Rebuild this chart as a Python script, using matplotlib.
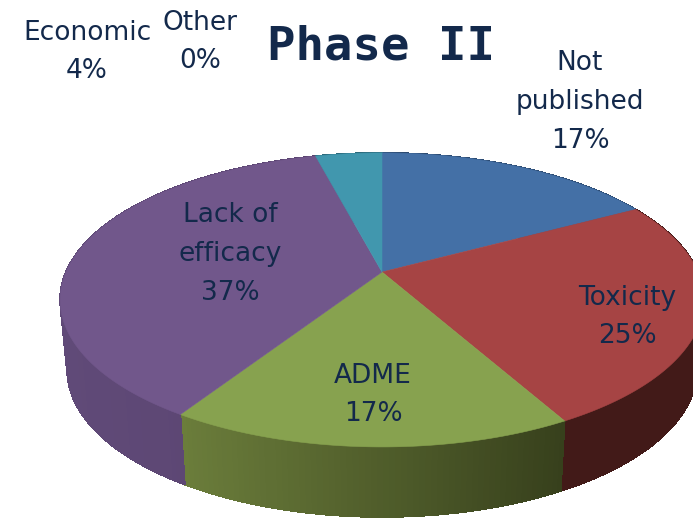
import matplotlib
matplotlib.use("Agg")
import matplotlib.pyplot as plt
from matplotlib.colors import to_rgb
import numpy as np

# --- data ---
categories = ["Not\npublished", "Toxicity", "ADME", "Lack of\nefficacy", "Economic", "Other"]
values = [17, 25, 17, 37, 4, 0]
top_colors = ["#4470a6", "#a64444", "#87a24f", "#71578b", "#4197ae", "#e08a3c"]
# side wall shading, colour at the left and right end of each wall
side_left = ["#2c4a70", "#421a18", "#6b7d3b", "#604a78", "#2c6a7c", "#8a5520"]
side_right = ["#2c4a70", "#421a18", "#37401c", "#5a4470", "#2c6a7c", "#8a5520"]

# label positions in pixels (x, y of the text centre)
label_pos = [(580, 102), (627, 317), (373, 395), (230, 254), (87, 52), (200, 42)]

TEXT = "#13294b"
CX, CY = 382, 272
RX, RY, K = 316, 141.7, 0.19
DEPTH, SHRINK = 70, 0.978


def project(theta, scale=1.0, drop=0.0):
    # theta runs clockwise from 12 o'clock, perspective tilted towards the viewer
    u = np.sin(theta)
    v = -np.cos(theta)
    w = 1 - K * v
    return CX + scale * RX * u / w, CY + RY * v / w + drop


fig = plt.figure(figsize=(6.93, 5.22), dpi=100)
ax = fig.add_axes([0, 0, 1, 1])
ax.set_xlim(0, 693)
ax.set_ylim(522, 0)
ax.axis("off")

edges = np.cumsum([0] + values) / sum(values) * 2 * np.pi

# side walls first, the top surface is painted over them
for i in range(len(values)):
    if values[i] == 0:
        continue
    th = np.linspace(edges[i], edges[i + 1], max(values[i] * 4, 8) + 1)
    xt, yt = project(th)
    xb, yb = project(th, SHRINK, DEPTH)
    lo, hi = xt.min(), xt.max()
    c0, c1 = np.array(to_rgb(side_left[i])), np.array(to_rgb(side_right[i]))
    for j in range(len(th) - 1):
        f = ((xt[j] + xt[j + 1]) / 2 - lo) / (hi - lo)
        col = c0 + (c1 - c0) * f
        ax.fill([xt[j], xt[j + 1], xb[j + 1], xb[j]],
                [yt[j], yt[j + 1], yb[j + 1], yb[j]],
                color=col, lw=0.6, antialiased=False, zorder=1)

# top surface
for i in range(len(values)):
    if values[i] == 0:
        continue
    th = np.linspace(edges[i], edges[i + 1], 120)
    xt, yt = project(th)
    ax.fill(np.r_[CX, xt], np.r_[CY, yt], color=top_colors[i], lw=0.4, zorder=2)

# labels
for name, val, (x, y) in zip(categories, values, label_pos):
    ax.text(x, y, f"{name}\n{val}%", ha="center", va="center", color=TEXT,
            fontsize=19, family="DejaVu Sans", linespacing=1.63, zorder=3)

ax.text(381, 47, "Phase II", ha="center", va="center", color=TEXT,
        fontsize=34, fontweight="bold", family="DejaVu Sans Mono", zorder=3)

fig.savefig("out.png", dpi=100)
